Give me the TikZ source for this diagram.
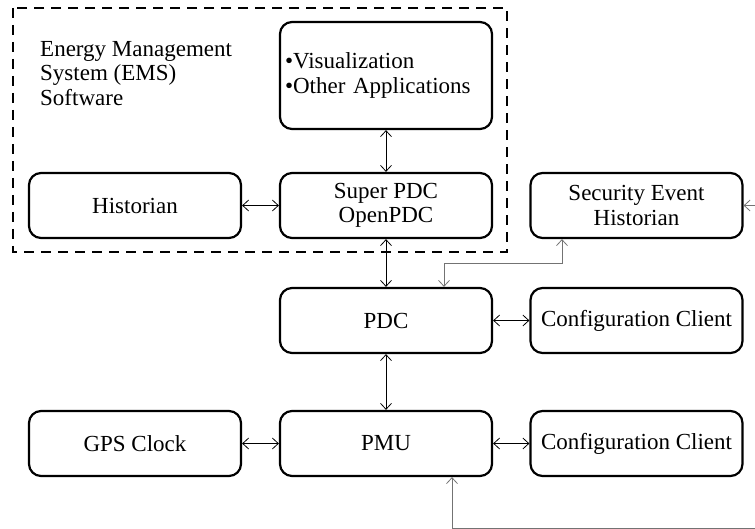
\documentclass[tikz,border=0pt]{standalone}
\usepackage{fontspec}
\setmainfont{Liberation Serif}
\usetikzlibrary{arrows.meta}
\begin{document}
\begin{tikzpicture}[x=1pt,y=-1pt,
  font=\fontsize{23}{24.5}\selectfont,
  box/.style={draw,line width=2.2pt,rounded corners=12pt,minimum width=212pt,minimum height=65pt,inner sep=0pt,align=center},
  tipb/.tip={Straight Barb[length=6pt,width=11pt,line width=0.8pt]},
  link/.style={line width=0.8pt,tipb-tipb},
  grlink/.style={line width=0.8pt,draw=black!55},
  emsbox/.style={draw,line width=2.2pt,dash pattern=on 10pt off 7pt}
]
\useasboundingbox (0,0) rectangle (755,529);
% EMS dashed region
\draw[emsbox] (13,8) rectangle (507,252);
\node[anchor=north west,inner sep=0pt,align=left] (ems) at (40,41) {Energy Management\\System (EMS)\\Software};
% boxes
\node[box,minimum height=107pt,text width=202pt,inner xsep=5pt,align=left] (vis) at (386,75.5) {•Visualization\\•Other Applications};
\node[box] (hist) at (135,205.5) {Historian};
\node[box] (super) at (386,205.5) {Super PDC\\OpenPDC};
\node[box] (seh) at (636.5,205.5) {Security Event\\Historian};
\node[box] (pdc) at (386,320.5) {PDC};
\node[box] (cc1) at (636.5,320.5) {Configuration Client};
\node[box] (gps) at (135,443.5) {GPS Clock};
\node[box] (pmu) at (386,443.5) {PMU};
\node[box] (cc2) at (636.5,443.5) {Configuration Client};
% connectors
\draw[link] (vis) -- (super);
\draw[link] (hist) -- (super);
\draw[link] (super) -- (pdc);
\draw[link] (pdc) -- (cc1);
\draw[link] (pdc) -- (pmu);
\draw[link] (gps) -- (pmu);
\draw[link] (pmu) -- (cc2);
% elbow between security event historian and PDC
\coordinate (ea) at (562,263);
\coordinate (eb) at (444,263);
\draw[grlink,tipb-tipb] (seh.south -| ea) -- (ea) -- (eb) -- (pdc.north -| eb);
% free ends
\coordinate (r1) at (755,205.5);
\draw[grlink,-tipb] (r1) -- (seh.east);
\coordinate (b1) at (755,528);
\coordinate (bc) at (452,528);
\draw[grlink,-tipb] (b1) -- (bc) -- (pmu.south -| bc);
\end{tikzpicture}
\end{document}
